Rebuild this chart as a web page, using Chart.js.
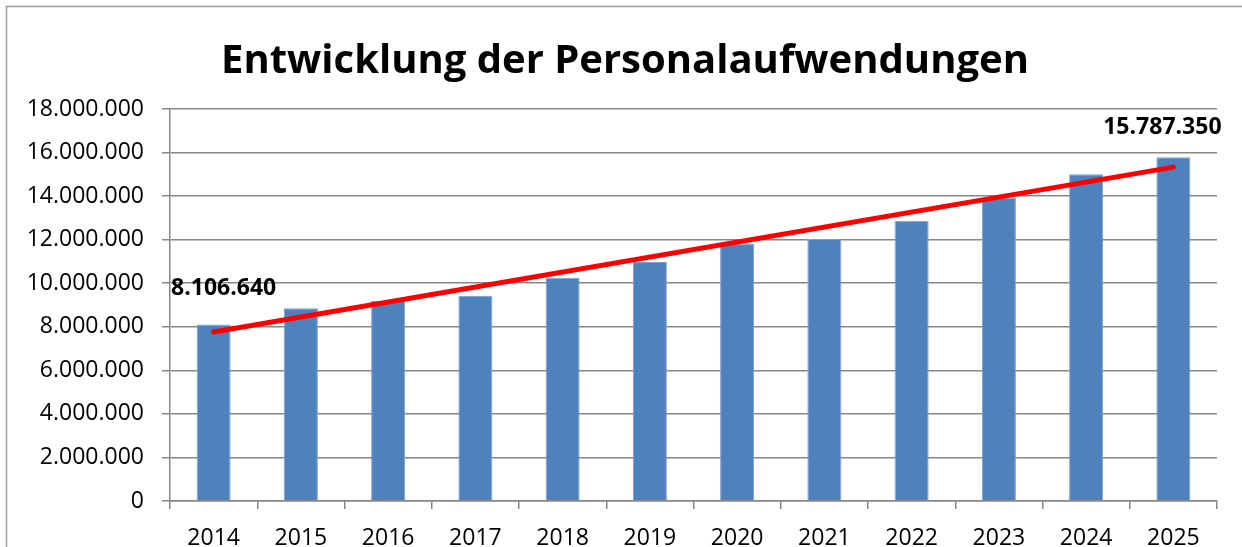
<!DOCTYPE html>
<html>
<head>
<meta charset="utf-8">
<script src="https://cdn.jsdelivr.net/npm/chart.js@4"></script>
<style>
  html, body { margin: 0; padding: 0; background: #fff; }
  #wrap { width: 1242px; height: 547px; position: relative; }
</style>
</head>
<body>
<div id="wrap"><canvas id="c" width="1242" height="547"></canvas></div>
<script>
const titleText = 'Entwicklung der Personalaufwendungen';
const years = ['2014','2015','2016','2017','2018','2019','2020','2021','2022','2023','2024','2025'];
const personalaufwand = [8106640, 8850000, 9180000, 9430000, 10250000, 10970000, 11820000, 12030000, 12870000, 13930000, 15000000, 15787350];
const trendline = [7760000, null, null, null, null, null, null, null, null, null, null, 15330000];
const labeledIndices = [0, 11];
const yMin = 0, yMax = 18000000, yStep = 2000000;

function fmtDE(v) {
  return String(Math.round(v)).replace(/\B(?=(\d{3})+(?!\d))/g, '.');
}

const FONT = "'Open Sans', 'Liberation Sans', sans-serif";

const framePlugin = {
  id: 'frame',
  beforeDraw(chart) {
    const ctx = chart.ctx;
    ctx.save();
    ctx.fillStyle = '#fff';
    ctx.fillRect(0, 0, chart.width, chart.height);
    ctx.strokeStyle = '#9a9a9a';
    ctx.lineWidth = 1.5;
    ctx.strokeRect(6.5, 6.5, 1400, 700);
    ctx.restore();
  }
};

const titlePlugin = {
  id: 'customTitle',
  afterDraw(chart) {
    const ctx = chart.ctx;
    ctx.save();
    ctx.font = "bold 40px " + FONT;
    ctx.fillStyle = '#000';
    ctx.textAlign = 'center';
    ctx.textBaseline = 'alphabetic';
    ctx.fillText(titleText, 625, 73);
    ctx.restore();
  }
};

const valueLabelPlugin = {
  id: 'valueLabels',
  afterDatasetsDraw(chart) {
    const ctx = chart.ctx;
    const meta = chart.getDatasetMeta(1);
    ctx.save();
    ctx.font = "bold 23px " + FONT;
    ctx.fillStyle = '#000';
    ctx.textAlign = 'center';
    ctx.textBaseline = 'middle';
    labeledIndices.forEach((i, k) => {
      const el = meta.data[i];
      const dx = k === 0 ? 10 : -11;
      const dy = k === 0 ? -36 : -30;
      ctx.fillText(fmtDE(personalaufwand[i]), el.x + dx, el.y + dy);
    });
    ctx.restore();
  }
};

new Chart(document.getElementById('c'), {
  type: 'bar',
  data: {
    labels: years,
    datasets: [
      {
        type: 'line',
        label: 'Trend',
        data: trendline,
        borderColor: '#ff0000',
        borderWidth: 5,
        borderCapStyle: 'round',
        pointRadius: 0,
        spanGaps: true,
        fill: false,
        order: 0
      },
      {
        type: 'bar',
        label: 'Personalaufwendungen',
        data: personalaufwand,
        backgroundColor: '#4f81bd',
        borderColor: '#7aa0cf',
        borderWidth: 1,
        barPercentage: 0.39,
        categoryPercentage: 1,
        order: 1
      }
    ]
  },
  options: {
    responsive: false,
    animation: false,
    devicePixelRatio: 1,
    layout: { padding: { top: 109, right: 25, left: 0, bottom: 0 } },
    plugins: {
      legend: { display: false },
      title: { display: false },
      tooltip: { enabled: false }
    },
    scales: {
      x: {
        offset: true,
        grid: { offset: true, drawOnChartArea: false, drawTicks: true, tickLength: 8, color: '#878787', lineWidth: 1.5 },
        border: { display: true, color: '#878787', width: 1.5 },
        ticks: { color: '#000', font: { family: FONT, size: 23 }, padding: 16, maxRotation: 0 },
        afterFit(scale) { scale.height = 46; }
      },
      y: {
        min: yMin, max: yMax,
        grid: { color: '#878787', lineWidth: 1.5, tickLength: 8 },
        border: { display: true, color: '#878787', width: 1.5 },
        ticks: { stepSize: yStep, color: '#000', font: { family: FONT, size: 23 }, padding: 18, callback: v => fmtDE(v) },
        afterFit(scale) { scale.width = 170; }
      }
    }
  },
  plugins: [framePlugin, titlePlugin, valueLabelPlugin]
});
</script>
</body>
</html>
